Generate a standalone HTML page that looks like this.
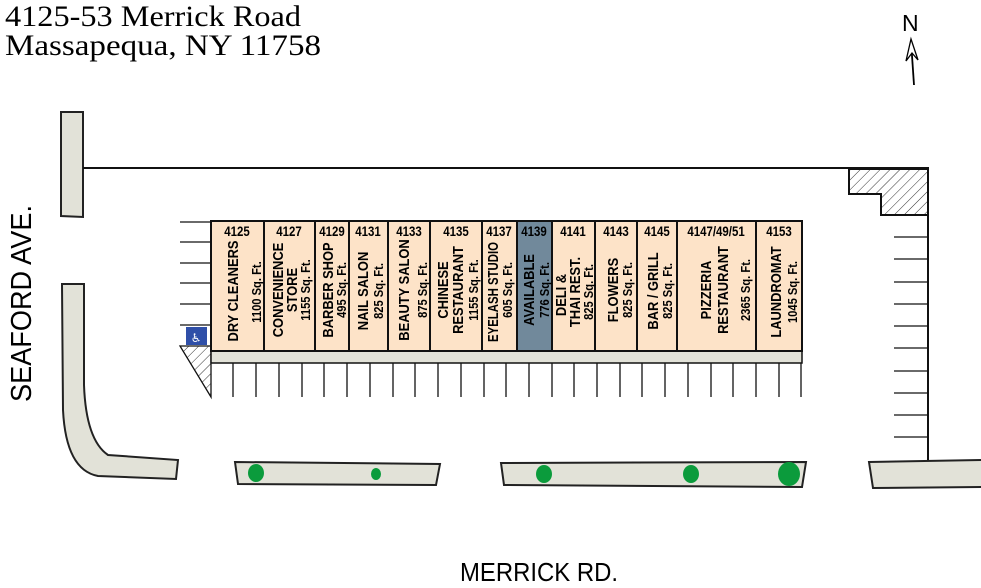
<!DOCTYPE html>
<html><head><meta charset="utf-8"><style>
html,body{margin:0;padding:0;background:#fff;}
svg{display:block;}
.n{font-family:"Liberation Sans",sans-serif;font-weight:bold;font-size:13.5px;text-anchor:middle;}
.t{font-family:"Liberation Sans",sans-serif;font-weight:bold;font-size:15px;text-anchor:middle;}
.s{font-family:"Liberation Sans",sans-serif;font-weight:bold;font-size:13px;text-anchor:middle;}
</style></head><body>
<svg width="981" height="588" viewBox="0 0 981 588" xmlns="http://www.w3.org/2000/svg">
<defs>
<pattern id="h" width="7" height="7" patternUnits="userSpaceOnUse" patternTransform="rotate(45)">
<rect width="7" height="7" fill="#fff"/><line x1="0" y1="0" x2="0" y2="7" stroke="#333" stroke-width="1"/>
</pattern>
</defs>
<text x="5" y="26" font-family="'Liberation Serif',serif" font-size="30" textLength="296" lengthAdjust="spacingAndGlyphs">4125-53 Merrick Road</text>
<text x="5" y="55" font-family="'Liberation Serif',serif" font-size="30" textLength="316" lengthAdjust="spacingAndGlyphs">Massapequa, NY 11758</text>
<text x="902" y="31" font-family="'Liberation Sans',sans-serif" font-size="23">N</text>
<line x1="914" y1="85" x2="911" y2="41" stroke="#000" stroke-width="1.8"/>
<path d="M911,39 L906,61 L912,53 L918,60 Z" fill="#fff" stroke="#000" stroke-width="1.3"/>
<text transform="translate(31,402) rotate(-90)" font-family="'Liberation Sans',sans-serif" font-size="29" textLength="197" lengthAdjust="spacingAndGlyphs">SEAFORD AVE.</text>
<text x="460" y="581" font-family="'Liberation Sans',sans-serif" font-size="26" textLength="158" lengthAdjust="spacingAndGlyphs">MERRICK RD.</text>
<g fill="#e2e2d8" stroke="#222" stroke-width="2">
<path d="M61,112 L83,112 L83,217 L61,216 Z"/>
<path d="M62,284 L84,284 L84,385 Q86,440 108,455 L178,460 L176,479 L98,476 Q66,470 63,410 Z"/>
<path d="M235,462 L440,464 L436,485 L238,484 Z"/>
<path d="M501,463 L806,462 L802,487 L504,485 Z"/>
<path d="M869,462 L982,460 L982,487 L873,488 Z"/>
</g>
<g fill="#0b9b3c">
<ellipse cx="256" cy="473" rx="8" ry="9"/><ellipse cx="376" cy="474" rx="5" ry="6"/>
<ellipse cx="544" cy="474" rx="8" ry="9"/><ellipse cx="691" cy="474" rx="8" ry="9"/><ellipse cx="789" cy="474" rx="11" ry="12"/>
</g>
<g stroke="#111" stroke-width="2" fill="none">
<path d="M83,168 L928,168 L928,460"/>
</g>
<path d="M849,169 L928,169 L928,215 L881,215 L881,194 L849,194 Z" fill="url(#h)" stroke="#111" stroke-width="2"/>
<g stroke="#111" stroke-width="1.3">
<line x1="894" y1="237" x2="928" y2="237"/><line x1="894" y1="259" x2="928" y2="259"/><line x1="894" y1="282" x2="928" y2="282"/><line x1="894" y1="304" x2="928" y2="304"/><line x1="894" y1="326" x2="928" y2="326"/><line x1="894" y1="348" x2="928" y2="348"/><line x1="894" y1="371" x2="928" y2="371"/><line x1="894" y1="393" x2="928" y2="393"/><line x1="894" y1="415" x2="928" y2="415"/><line x1="894" y1="437" x2="928" y2="437"/>
<line x1="180" y1="222" x2="211" y2="222"/><line x1="180" y1="242" x2="211" y2="242"/><line x1="180" y1="263" x2="211" y2="263"/><line x1="180" y1="283" x2="211" y2="283"/><line x1="180" y1="304" x2="211" y2="304"/><line x1="180" y1="325" x2="211" y2="325"/>
</g>
<path d="M180,346 L211,346 L211,397 Z" fill="url(#h)" stroke="#111" stroke-width="1.3"/>
<rect x="186" y="327" width="21" height="18" fill="#2f4fa8"/>
<text x="196" y="342" font-family="'DejaVu Sans',sans-serif" font-size="12" fill="#fff" text-anchor="middle">♿</text>
<g stroke="#111" stroke-width="1.3">
<line x1="233" y1="363" x2="233" y2="397"/><line x1="256" y1="363" x2="256" y2="397"/><line x1="279" y1="363" x2="279" y2="397"/><line x1="302" y1="363" x2="302" y2="397"/><line x1="324" y1="363" x2="324" y2="397"/><line x1="347" y1="363" x2="347" y2="397"/><line x1="370" y1="363" x2="370" y2="397"/><line x1="393" y1="363" x2="393" y2="397"/><line x1="415" y1="363" x2="415" y2="397"/><line x1="438" y1="363" x2="438" y2="397"/><line x1="461" y1="363" x2="461" y2="397"/><line x1="484" y1="363" x2="484" y2="397"/><line x1="506" y1="363" x2="506" y2="397"/><line x1="529" y1="363" x2="529" y2="397"/><line x1="552" y1="363" x2="552" y2="397"/><line x1="574" y1="363" x2="574" y2="397"/><line x1="597" y1="363" x2="597" y2="397"/><line x1="620" y1="363" x2="620" y2="397"/><line x1="642" y1="363" x2="642" y2="397"/><line x1="665" y1="363" x2="665" y2="397"/><line x1="688" y1="363" x2="688" y2="397"/><line x1="711" y1="363" x2="711" y2="397"/><line x1="733" y1="363" x2="733" y2="397"/><line x1="756" y1="363" x2="756" y2="397"/><line x1="779" y1="363" x2="779" y2="397"/><line x1="801" y1="363" x2="801" y2="397"/>
</g>
<rect x="211" y="351" width="591" height="12" fill="#e2e2d8" stroke="#111" stroke-width="1.5"/>
<g stroke="#111" stroke-width="2" fill="#fde3c8">
<rect x="211" y="221" width="53" height="130"/>
<rect x="264" y="221" width="51" height="130"/>
<rect x="315" y="221" width="34" height="130"/>
<rect x="349" y="221" width="39" height="130"/>
<rect x="388" y="221" width="42" height="130"/>
<rect x="430" y="221" width="52" height="130"/>
<rect x="482" y="221" width="35" height="130"/>
<rect x="517" y="221" width="35" height="130" fill="#71899b"/>
<rect x="552" y="221" width="43" height="130"/>
<rect x="595" y="221" width="42" height="130"/>
<rect x="637" y="221" width="40" height="130"/>
<rect x="677" y="221" width="79" height="130"/>
<rect x="756" y="221" width="46" height="130"/>
</g>
<g>
<text class="n" transform="translate(237,236) scale(0.85,1)">4125</text><text class="n" transform="translate(289,236) scale(0.85,1)">4127</text><text class="n" transform="translate(332,236) scale(0.85,1)">4129</text><text class="n" transform="translate(368,236) scale(0.85,1)">4131</text><text class="n" transform="translate(409,236) scale(0.85,1)">4133</text><text class="n" transform="translate(456,236) scale(0.85,1)">4135</text><text class="n" transform="translate(499,236) scale(0.85,1)">4137</text><text class="n" transform="translate(534,236) scale(0.85,1)">4139</text><text class="n" transform="translate(573,236) scale(0.85,1)">4141</text><text class="n" transform="translate(616,236) scale(0.85,1)">4143</text><text class="n" transform="translate(657,236) scale(0.85,1)">4145</text><text class="n" transform="translate(716,236) scale(0.85,1)">4147/49/51</text><text class="n" transform="translate(779,236) scale(0.85,1)">4153</text>
</g>
<g>
<text class="t" transform="translate(238,291) rotate(-90) scale(0.86,1)">DRY CLEANERS</text>
<text class="s" transform="translate(261,292) rotate(-90) scale(0.86,1)">1100 Sq. Ft.</text>
<text class="t" transform="translate(283,290) rotate(-90) scale(0.86,1)">CONVENIENCE</text>
<text class="t" transform="translate(297,290) rotate(-90) scale(0.86,1)">STORE</text>
<text class="s" transform="translate(310,290) rotate(-90) scale(0.86,1)">1155 Sq. Ft.</text>
<text class="t" transform="translate(333,290) rotate(-90) scale(0.86,1)">BARBER SHOP</text>
<text class="s" transform="translate(346,290) rotate(-90) scale(0.86,1)">495 Sq. Ft.</text>
<text class="t" transform="translate(368,291) rotate(-90) scale(0.86,1)">NAIL SALON</text>
<text class="s" transform="translate(383,291) rotate(-90) scale(0.86,1)">825 Sq. Ft.</text>
<text class="t" transform="translate(409,290) rotate(-90) scale(0.86,1)">BEAUTY SALON</text>
<text class="s" transform="translate(427,290) rotate(-90) scale(0.86,1)">875 Sq. Ft.</text>
<text class="t" transform="translate(448,290) rotate(-90) scale(0.86,1)">CHINESE</text>
<text class="t" transform="translate(463,290) rotate(-90) scale(0.86,1)">RESTAURANT</text>
<text class="s" transform="translate(478,290) rotate(-90) scale(0.86,1)">1155 Sq. Ft.</text>
<text class="t" transform="translate(498,292) rotate(-90) scale(0.76,1)">EYELASH STUDIO</text>
<text class="s" transform="translate(512,290) rotate(-90) scale(0.86,1)">605 Sq. Ft.</text>
<text class="t" transform="translate(534,290) rotate(-90) scale(0.86,1)">AVAILABLE</text>
<text class="s" transform="translate(549,290) rotate(-90) scale(0.86,1)">776 Sq. Ft.</text>
<text class="t" transform="translate(566,295) rotate(-90) scale(0.86,1)">DELI &amp;</text>
<text class="t" transform="translate(580,292) rotate(-90) scale(0.86,1)">THAI REST.</text>
<text class="s" transform="translate(593,292) rotate(-90) scale(0.86,1)">825 Sq. Ft.</text>
<text class="t" transform="translate(618,290) rotate(-90) scale(0.86,1)">FLOWERS</text>
<text class="s" transform="translate(632,290) rotate(-90) scale(0.86,1)">825 Sq. Ft.</text>
<text class="t" transform="translate(658,291) rotate(-90) scale(0.86,1)">BAR / GRILL</text>
<text class="s" transform="translate(672,291) rotate(-90) scale(0.86,1)">825 Sq. Ft.</text>
<text class="t" transform="translate(711,290) rotate(-90) scale(0.86,1)">PIZZERIA</text>
<text class="t" transform="translate(728,290) rotate(-90) scale(0.86,1)">RESTAURANT</text>
<text class="s" transform="translate(750,290) rotate(-90) scale(0.86,1)">2365 Sq. Ft.</text>
<text class="t" transform="translate(781,292) rotate(-90) scale(0.86,1)">LAUNDROMAT</text>
<text class="s" transform="translate(797,292) rotate(-90) scale(0.86,1)">1045 Sq. Ft.</text>
</g>
</svg>
</body></html>
